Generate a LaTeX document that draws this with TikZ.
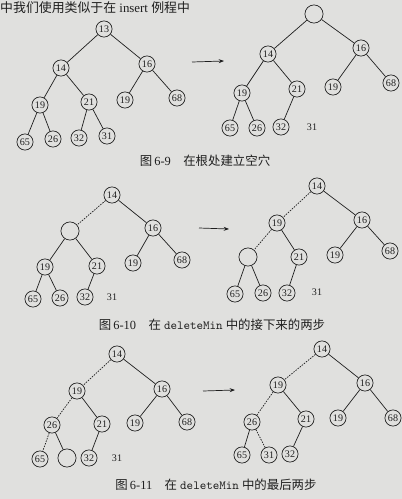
\documentclass[tikz,border=0pt]{standalone}
\usepackage{fontspec}
\setmainfont{Liberation Serif}
\newfontfamily\cjk{Noto Sans CJK SC}
\usetikzlibrary{arrows.meta}
\definecolor{paper}{rgb}{0.88,0.88,0.87}
\definecolor{ink}{rgb}{0.12,0.12,0.12}

\begin{document}
\begin{tikzpicture}[x=0.03cm,y=-0.03cm,
 every node/.style={font=\fontsize{8.6}{10}\selectfont,inner sep=0pt,text=ink},
 key/.style={circle,draw=ink,semithick,minimum size=13.8pt},
 hole/.style={circle,draw=ink,semithick,minimum size=15.5pt},
 edge/.style={draw=ink,semithick},
 trail/.style={draw=ink,semithick,dash pattern=on 1.3pt off 1pt},
 arr/.style={-{Stealth[length=1.6mm,width=1.2mm]},draw=ink,semithick},
 figcap/.style={font=\fontsize{10.6}{12}\selectfont}]
\useasboundingbox[fill=paper] (0,0) rectangle (402,499);
\node[anchor=west,font=\fontsize{11}{12}\selectfont] (intro) at (0,7.5) {{\cjk 中我们使用类似于在} insert {\cjk 例程中}};
% 6-9
\node[key] (a1) at (104,29) {13};
\node[key] (a2) at (61,68) {14};
\node[key] (a3) at (147,64) {16};
\node[key] (a4) at (40,105) {19};
\node[key] (a5) at (89,102) {21};
\node[key] (a6) at (125,100) {19};
\node[key] (a7) at (177,98) {68};
\node[key] (a8) at (25,142) {65};
\node[key] (a9) at (53,139) {26};
\node[key] (a10) at (79,138) {32};
\node[key] (a11) at (107,136) {31};
\draw[edge] (a1) -- (a2) (a1) -- (a3) (a2) -- (a4) (a2) -- (a5) (a3) -- (a6) (a3) -- (a7)
 (a4) -- (a8) (a4) -- (a9) (a5) -- (a10) (a5) -- (a11);
\coordinate (s9) at (192,62);
\coordinate (t9) at (224,61);
\draw[arr] (s9) -- (t9);
\node[hole] (b1) at (314,14) {};
\node[key] (b2) at (268,54) {14};
\node[key] (b3) at (361,48) {16};
\node[key] (b4) at (242,93) {19};
\node[key] (b5) at (297,89) {21};
\node[key] (b6) at (333,87) {19};
\node[key] (b7) at (391,83) {68};
\node[key] (b8) at (230,128) {65};
\node[key] (b9) at (257,128) {26};
\node[key] (b10) at (281,127) {32};
\node (b11) at (312,127) {31};
\draw[edge] (b1) -- (b2) (b1) -- (b3) (b2) -- (b4) (b2) -- (b5) (b3) -- (b6) (b3) -- (b7)
 (b4) -- (b8) (b4) -- (b9) (b5) -- (b10);
\node[figcap] (f9) at (205,161) {{\cjk 图}\,6-9\quad{\cjk 在根处建立空穴}};
% 6-10
\node[key] (c1) at (112,195) {14};
\node[hole] (c2) at (70,231) {};
\node[key] (c3) at (153,228) {16};
\node[key] (c4) at (45,267) {19};
\node[key] (c5) at (97,266) {21};
\node[key] (c6) at (133,263) {19};
\node[key] (c7) at (182,260) {68};
\node[key] (c8) at (33,299) {65};
\node[key] (c9) at (60,298) {26};
\node[key] (c10) at (85,297) {32};
\node (c11) at (112,297) {31};
\draw[trail] (c1) -- (c2);
\draw[edge] (c1) -- (c3) (c2) -- (c4) (c2) -- (c5) (c3) -- (c6) (c3) -- (c7)
 (c4) -- (c8) (c4) -- (c9) (c5) -- (c10);
\coordinate (s10) at (199,228);
\coordinate (t10) at (229,229);
\draw[arr] (s10) -- (t10);
\node[key] (d1) at (317,186) {14};
\node[key] (d2) at (277,223) {19};
\node[key] (d3) at (362,220) {16};
\node[hole] (d4) at (248,257) {};
\node[key] (d5) at (299,257) {21};
\node[key] (d6) at (335,255) {19};
\node[key] (d7) at (390,251) {68};
\node[key] (d8) at (235,294) {65};
\node[key] (d9) at (263,293) {26};
\node[key] (d10) at (287,293) {32};
\node (d11) at (317,292) {31};
\draw[trail] (d1) -- (d2) (d2) -- (d4);
\draw[edge] (d1) -- (d3) (d2) -- (d5) (d3) -- (d6) (d3) -- (d7)
 (d4) -- (d8) (d4) -- (d9) (d5) -- (d10);
\node[figcap] (f10) at (212,325) {{\cjk 图}\,6-10\quad{\cjk 在} \texttt{deleteMin} {\cjk 中的接下来的两步}};
% 6-11
\node[key] (e1) at (117,354) {14};
\node[key] (e2) at (77,391) {19};
\node[key] (e3) at (162,389) {16};
\node[key] (e4) at (52,425) {26};
\node[key] (e5) at (102,424) {21};
\node[key] (e6) at (135,423) {19};
\node[key] (e7) at (187,422) {68};
\node[key] (e8) at (40,459) {65};
\node[hole] (e9) at (67,458) {};
\node[key] (e10) at (89,458) {32};
\node (e11) at (117,458) {31};
\draw[trail] (e1) -- (e2) (e2) -- (e4) (e4) -- (e8);
\draw[edge] (e1) -- (e3) (e2) -- (e5) (e3) -- (e6) (e3) -- (e7)
 (e4) -- (e9) (e5) -- (e10);
\coordinate (s11) at (203,391);
\coordinate (t11) at (235,390);
\draw[arr] (s11) -- (t11);
\node[key] (g1) at (322,349) {14};
\node[key] (g2) at (278,385) {19};
\node[key] (g3) at (365,383) {16};
\node[key] (g4) at (252,422) {26};
\node[key] (g5) at (306,419) {21};
\node[key] (g6) at (338,418) {19};
\node[key] (g7) at (393,418) {68};
\node[key] (g8) at (242,455) {65};
\node[key] (g9) at (269,455) {31};
\node[key] (g10) at (290,454) {32};
\draw[trail] (g1) -- (g2) (g2) -- (g4) (g4) -- (g9);
\draw[edge] (g1) -- (g3) (g2) -- (g5) (g3) -- (g6) (g3) -- (g7)
 (g4) -- (g8) (g5) -- (g10);
\node[figcap] (f11) at (216,485) {{\cjk 图}\,6-11\quad{\cjk 在} \texttt{deleteMin} {\cjk 中的最后两步}};
\end{tikzpicture}
\end{document}
